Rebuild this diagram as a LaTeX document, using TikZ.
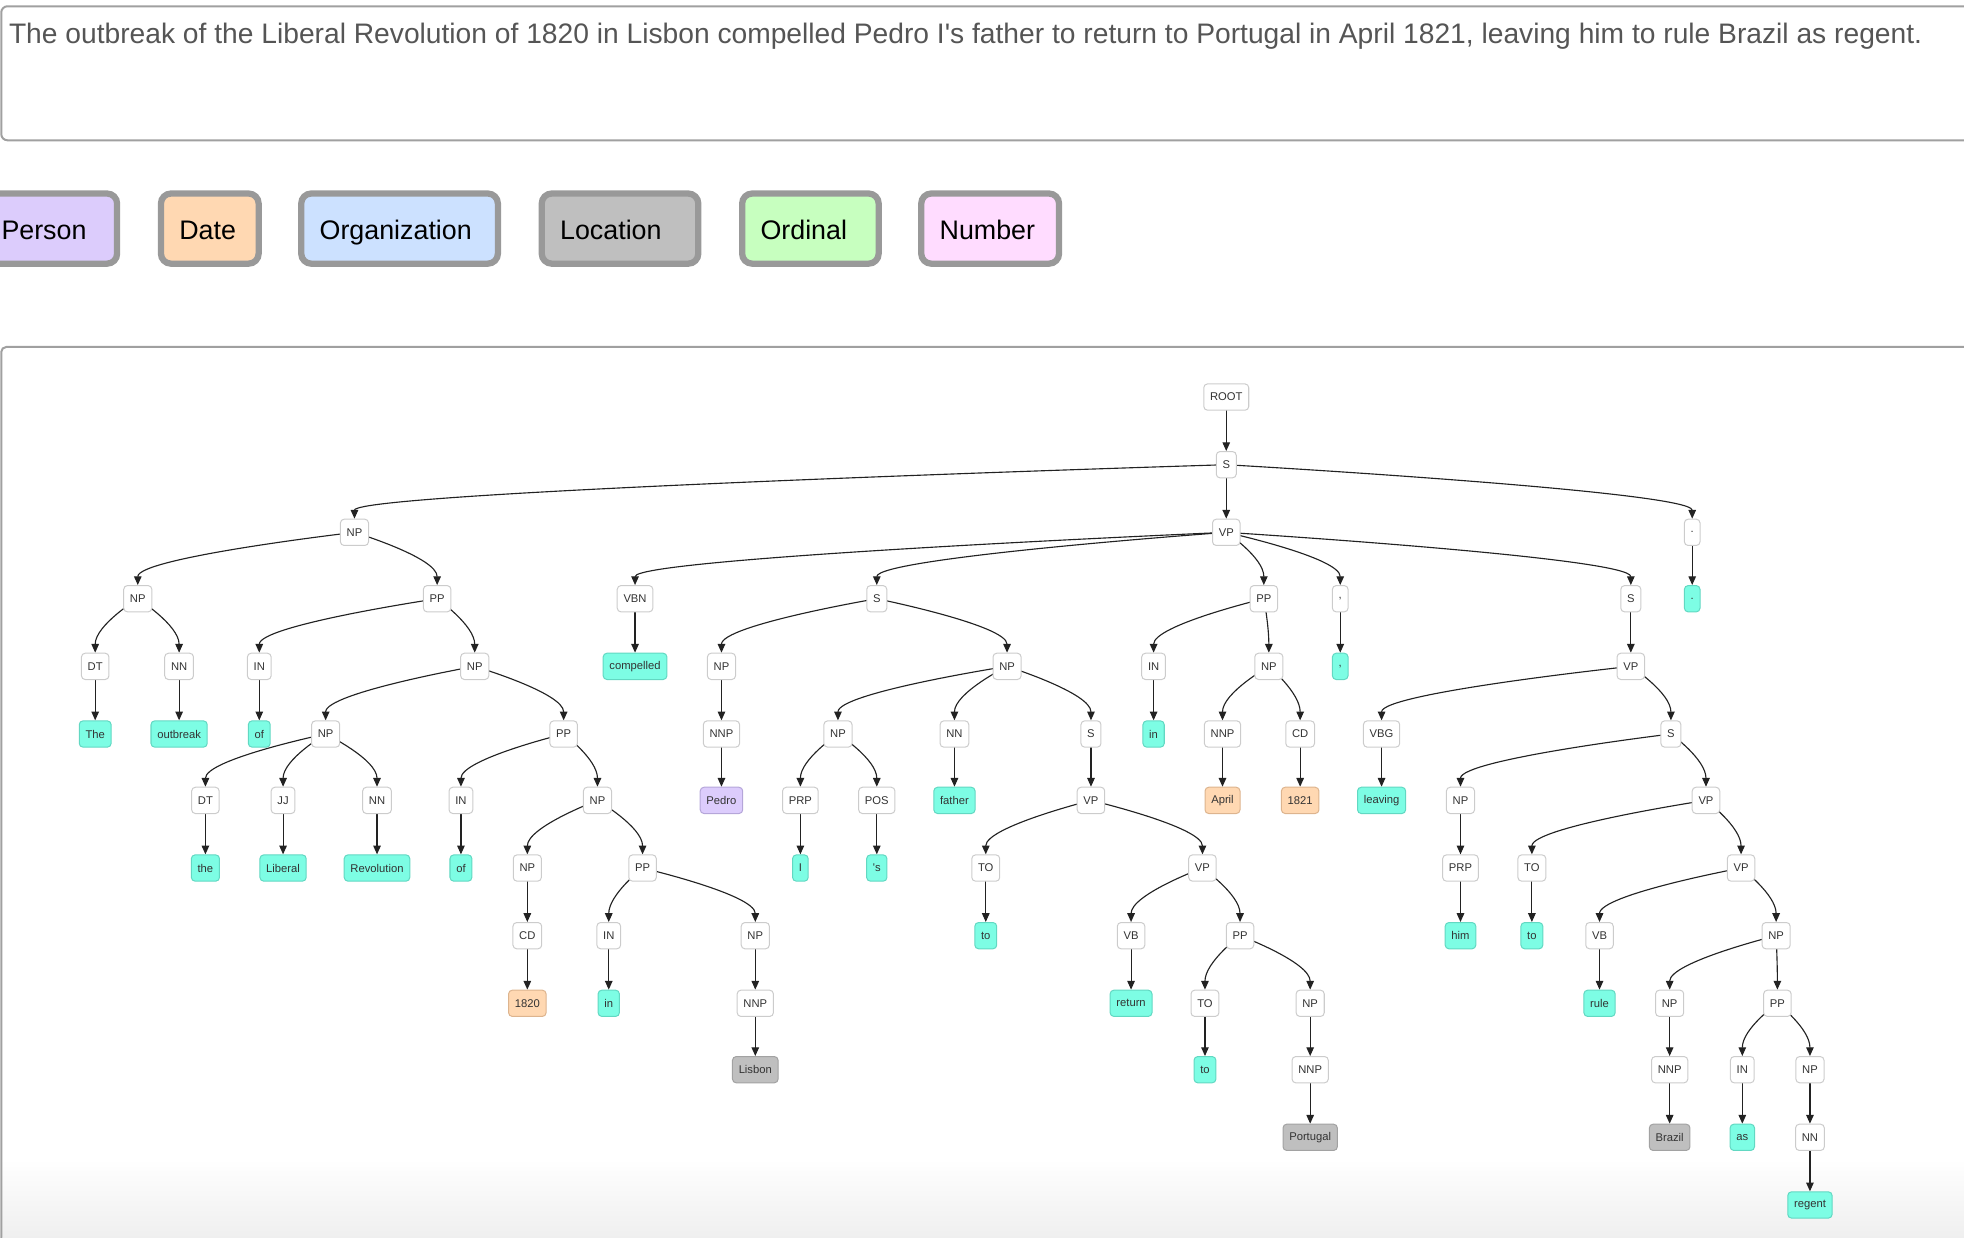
\documentclass[tikz,border=0pt]{standalone}
\usepackage{fontspec}
\setmainfont{Liberation Sans}
\usetikzlibrary{arrows.meta,calc}
\pgfdeclarelayer{bg}
\pgfdeclarelayer{edges}
\pgfsetlayers{bg,edges,main}
\definecolor{framec}{HTML}{A0A0A0}
\definecolor{legc}{HTML}{999999}
\definecolor{sentc}{HTML}{555555}
\definecolor{boxc}{HTML}{CCCCCC}
\definecolor{txtc}{HTML}{333333}
\definecolor{linkc}{HTML}{222222}
\definecolor{cyanf}{HTML}{7DFDE4}
\definecolor{cyand}{HTML}{62D8C2}
\definecolor{personf}{HTML}{DCCCFC}
\definecolor{persond}{HTML}{B5A6D9}
\definecolor{datef}{HTML}{FFD8B2}
\definecolor{dated}{HTML}{DDB48E}
\definecolor{orgf}{HTML}{CCE1FF}
\definecolor{locf}{HTML}{BFBFBF}
\definecolor{locd}{HTML}{A2A2A2}
\definecolor{ordf}{HTML}{C7FFBF}
\definecolor{numf}{HTML}{FFDCFF}
\definecolor{shadec}{HTML}{EFEFEF}
\newcommand\lk[2]{\draw[link] (#1.center) .. controls (#1.center) and ($(#2.north)+(0,-22)$) .. (#2.north);}
\begin{document}
\begin{tikzpicture}[x=1bp,y=-1bp,
  tn/.style={draw=boxc, fill=white, rounded corners=3bp, minimum height=21bp, inner xsep=5bp, inner ysep=0pt, font=\fontsize{9}{10}\selectfont, text=txtc, line width=0.8bp},
  lf/.style={tn, fill=cyanf, draw=cyand},
  pf/.style={tn, fill=personf, draw=persond},
  df/.style={tn, fill=datef, draw=dated},
  gf/.style={tn, fill=locf, draw=locd},
  link/.style={draw=linkc, line width=0.9bp, -{Triangle[length=7bp,width=6bp]}},
  frame/.style={draw=framec, line width=1.6bp},
  leg/.style={draw=legc, line width=5bp, rounded corners=8bp},
  legt/.style={font=\fontsize{21.5}{24}\selectfont, text=black, anchor=base west, inner sep=0pt}]
\useasboundingbox (0,0) rectangle (1568,988);
% sentence box
\draw[frame, rounded corners=5bp] (1575,5) -- (1,5) -- (1,112) -- (1575,112);
\node[anchor=base west, inner sep=0pt, font=\fontsize{22.6}{26}\selectfont, text=sentc] (sent) at (7,35) {The outbreak of the Liberal Revolution of 1820 in Lisbon compelled Pedro I\textquotesingle s father to return to Portugal in April 1821, leaving him to rule Brazil as regent.};
% legend
\draw[leg, fill=personf] (-24,154.5) rectangle (93.5,210.5);
\draw[leg, fill=datef] (128.5,154.5) rectangle (206.5,210.5);
\draw[leg, fill=orgf] (240.5,154.5) rectangle (397.5,210.5);
\draw[leg, fill=locf] (432.5,154.5) rectangle (557.5,210.5);
\draw[leg, fill=ordf] (592.5,154.5) rectangle (701.5,210.5);
\draw[leg, fill=numf] (735.5,154.5) rectangle (845.5,210.5);
\node[legt] (lperson) at (1,191) {Person};
\node[legt] (ldate) at (143,191) {Date};
\node[legt] (lorg) at (255,191) {Organization};
\node[legt] (lloc) at (447,191) {Location};
\node[legt] (lord) at (607,191) {Ordinal};
\node[legt] (lnum) at (750,191) {Number};
% tree frame
\begin{pgfonlayer}{bg}
\fill[top color=white, bottom color=shadec] (2,925) rectangle (1568,988);
\end{pgfonlayer}
\draw[frame, rounded corners=4bp] (1,990) -- (1,277) -- (1575,277);
% tree nodes
\node[tn] (root) at (979,317) {ROOT};
\node[tn] (s0) at (979,371) {S};
\node[tn] (np1) at (283,425) {NP};
\node[tn] (vp1) at (979,425) {VP};
\node[tn] (dotp) at (1351,425) {.};
\node[tn] (np2) at (110,478) {NP};
\node[tn] (pp1) at (349,478) {PP};
\node[tn] (vbn) at (507,478) {VBN};
\node[tn] (s2) at (700,478) {S};
\node[tn] (pp3) at (1009,478) {PP};
\node[tn] (comp) at (1070,478) {,};
\node[tn] (s3) at (1302,478) {S};
\node[lf] (dotl) at (1351,478) {.};
\node[tn] (dt1) at (76,532) {DT};
\node[tn] (nn1) at (143,532) {NN};
\node[tn] (in1) at (207,532) {IN};
\node[tn] (np3) at (379,532) {NP};
\node[lf] (compelled) at (507,532) {compelled};
\node[tn] (np5) at (576,532) {NP};
\node[tn] (np6) at (804,532) {NP};
\node[tn] (in3) at (921,532) {IN};
\node[tn] (np9) at (1013,532) {NP};
\node[lf] (coml) at (1070,532) {,};
\node[tn] (vp4) at (1302,532) {VP};
\node[lf] (wthe) at (76,586) {The};
\node[lf] (outbreak) at (143,586) {outbreak};
\node[lf] (of1) at (207,586) {of};
\node[tn] (np4) at (260,586) {NP};
\node[tn] (pp2) at (450,586) {PP};
\node[tn] (nnp1) at (576,586) {NNP};
\node[tn] (np7) at (669,586) {NP};
\node[tn] (nn3) at (762,586) {NN};
\node[tn] (s4) at (871,586) {S};
\node[lf] (inl3) at (921,586) {in};
\node[tn] (nnp3) at (976,586) {NNP};
\node[tn] (cd2) at (1038,586) {CD};
\node[tn] (vbg) at (1103,586) {VBG};
\node[tn] (s5) at (1334,586) {S};
\node[tn] (dt2) at (164,639) {DT};
\node[tn] (jj) at (226,639) {JJ};
\node[tn] (nn2) at (301,639) {NN};
\node[tn] (in2) at (368,639) {IN};
\node[tn] (np8) at (477,639) {NP};
\node[pf] (pedro) at (576,639) {Pedro};
\node[tn] (prp1) at (639,639) {PRP};
\node[tn] (pos) at (700,639) {POS};
\node[lf] (father) at (762,639) {father};
\node[tn] (vp2) at (871,639) {VP};
\node[df] (april) at (976,639) {April};
\node[df] (y1821) at (1038,639) {1821};
\node[lf] (leaving) at (1103,639) {leaving};
\node[tn] (np12) at (1166,639) {NP};
\node[tn] (vp5) at (1362,639) {VP};
\node[lf] (wthe2) at (164,693) {the};
\node[lf] (liberal) at (226,693) {Liberal};
\node[lf] (revolution) at (301,693) {Revolution};
\node[lf] (of2) at (368,693) {of};
\node[tn] (np10) at (421,693) {NP};
\node[tn] (pp4) at (513,693) {PP};
\node[lf] (wI) at (639,693) {I};
\node[lf] (ws) at (700,693) {\textquotesingle s};
\node[tn] (to1) at (787,693) {TO};
\node[tn] (vp3) at (960,693) {VP};
\node[tn] (prp2) at (1166,693) {PRP};
\node[tn] (to3) at (1223,693) {TO};
\node[tn] (vp6) at (1390,693) {VP};
\node[tn] (cd1) at (421,747) {CD};
\node[tn] (in4) at (486,747) {IN};
\node[tn] (np11) at (603,747) {NP};
\node[lf] (tol1) at (787,747) {to};
\node[tn] (vb1) at (903,747) {VB};
\node[tn] (pp5) at (990,747) {PP};
\node[lf] (him) at (1166,747) {him};
\node[lf] (tol3) at (1223,747) {to};
\node[tn] (vb2) at (1277,747) {VB};
\node[tn] (np14) at (1418,747) {NP};
\node[df] (y1820) at (421,801) {1820};
\node[lf] (inl4) at (486,801) {in};
\node[tn] (nnp2) at (603,801) {NNP};
\node[lf] (wreturn) at (903,801) {return};
\node[tn] (to2) at (962,801) {TO};
\node[tn] (np13) at (1046,801) {NP};
\node[lf] (rule) at (1277,801) {rule};
\node[tn] (np15) at (1333,801) {NP};
\node[tn] (pp6) at (1419,801) {PP};
\node[gf] (lisbon) at (603,854) {Lisbon};
\node[lf] (tol2) at (962,854) {to};
\node[tn] (nnp4) at (1046,854) {NNP};
\node[tn] (nnp5) at (1333,854) {NNP};
\node[tn] (in5) at (1391,854) {IN};
\node[tn] (np16) at (1445,854) {NP};
\node[gf] (portugal) at (1046,908) {Portugal};
\node[gf] (brazil) at (1333,908) {Brazil};
\node[lf] (was) at (1391,908) {as};
\node[tn] (nn4) at (1445,908) {NN};
\node[lf] (regent) at (1445,962) {regent};
% edges
\begin{pgfonlayer}{edges}
\lk{root}{s0}
\lk{s0}{np1} \lk{s0}{vp1} \lk{s0}{dotp}
\lk{np1}{np2} \lk{np1}{pp1}
\lk{np2}{dt1} \lk{np2}{nn1} \lk{dt1}{wthe} \lk{nn1}{outbreak}
\lk{pp1}{in1} \lk{pp1}{np3} \lk{in1}{of1}
\lk{np3}{np4} \lk{np3}{pp2}
\lk{np4}{dt2} \lk{np4}{jj} \lk{np4}{nn2}
\lk{dt2}{wthe2} \lk{jj}{liberal} \lk{nn2}{revolution}
\lk{pp2}{in2} \lk{pp2}{np8} \lk{in2}{of2}
\lk{np8}{np10} \lk{np8}{pp4}
\lk{np10}{cd1} \lk{cd1}{y1820}
\lk{pp4}{in4} \lk{pp4}{np11} \lk{in4}{inl4}
\lk{np11}{nnp2} \lk{nnp2}{lisbon}
\lk{vp1}{vbn} \lk{vp1}{s2} \lk{vp1}{pp3} \lk{vp1}{comp} \lk{vp1}{s3}
\lk{vbn}{compelled}
\lk{s2}{np5} \lk{s2}{np6}
\lk{np5}{nnp1} \lk{nnp1}{pedro}
\lk{np6}{np7} \lk{np6}{nn3} \lk{np6}{s4}
\lk{np7}{prp1} \lk{np7}{pos} \lk{prp1}{wI} \lk{pos}{ws}
\lk{nn3}{father}
\lk{s4}{vp2}
\lk{vp2}{to1} \lk{vp2}{vp3} \lk{to1}{tol1}
\lk{vp3}{vb1} \lk{vp3}{pp5} \lk{vb1}{wreturn}
\lk{pp5}{to2} \lk{pp5}{np13} \lk{to2}{tol2}
\lk{np13}{nnp4} \lk{nnp4}{portugal}
\lk{pp3}{in3} \lk{pp3}{np9} \lk{in3}{inl3}
\lk{np9}{nnp3} \lk{np9}{cd2} \lk{nnp3}{april} \lk{cd2}{y1821}
\lk{comp}{coml}
\lk{s3}{vp4}
\lk{vp4}{vbg} \lk{vp4}{s5} \lk{vbg}{leaving}
\lk{s5}{np12} \lk{s5}{vp5}
\lk{np12}{prp2} \lk{prp2}{him}
\lk{vp5}{to3} \lk{vp5}{vp6} \lk{to3}{tol3}
\lk{vp6}{vb2} \lk{vp6}{np14} \lk{vb2}{rule}
\lk{np14}{np15} \lk{np14}{pp6}
\lk{np15}{nnp5} \lk{nnp5}{brazil}
\lk{pp6}{in5} \lk{pp6}{np16} \lk{in5}{was}
\lk{np16}{nn4} \lk{nn4}{regent}
\lk{dotp}{dotl}
\end{pgfonlayer}
\end{tikzpicture}
\end{document}
